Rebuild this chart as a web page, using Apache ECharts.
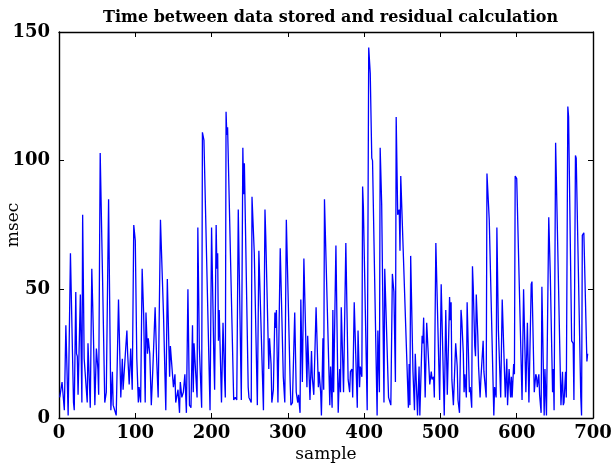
<!DOCTYPE html>
<html><head><meta charset="utf-8">
<script src="https://cdn.jsdelivr.net/npm/echarts@6/dist/echarts.min.js"></script>
<style>html,body{margin:0;padding:0;background:#fff}#c{width:612px;height:463px}</style>
</head><body><div id="c"></div>
<script>
const sampleIdx = [1,4,7,9,12,15,19,20,22,23,24,25,28,30,31,33,37,38,41,43,45,47,49,51,52,54,57,60,62,65,67,68,70,71,75,78,80,81,83,84,
86,87,89,90,92,94,96,98,100,102,104,105,107,109,111,113,114,116,117,119,121,123,125,126,128,130,133,137,140,142,144,145,146,148,150,152,153,156,158,159,161,163,165,
167,169,171,173,175,176,177,179,181,182,184,187,188,190,198,200,203,204,206,207,208,209,210,211,213,215,217,218,219,220,221,229,231,233,235,239,241,242,243,248,249,252,253,
256,260,262,268,270,271,275,276,278,279,281,283,284,285,287,290,294,296,298,303,304,306,307,309,311,313,314,316,317,319,321,325,326,329,331,332,334,337,340,341,
343,344,346,347,348,355,356,358,359,360,363,366,367,368,369,370,373,376,379,381,382,384,385,387,391,392,394,395,397,398,399,404,406,408,410,411,417,418,420,421,423,
426,427,432,434,435,437,439,441,442,444,446,447,448,458,459,460,461,464,466,467,469,470,472,473,476,477,478,480,482,486,488,489,491,492,494,499,501,505,507,509,512,
513,514,515,517,519,520,522,523,525,527,528,530,531,532,534,535,538,539,541,542,543,545,546,547,549,550,552,553,554,556,557,558,560,561,564,570,571,573,574,576,579,581,585,587,588,590,592,593,594,596,597,598,
600,607,609,612,614,616,618,619,620,623,625,626,627,629,630,632,633,636,637,638,639,642,644,647,648,649,651,658,660,661,662,664,665,667,668,672,674,675,677,678,684,685,686,688,692,693];
const msec = [8,14,3,36,1,64,6,3,49,25,24,9,48,6,79,23,6,29,4,58,34,5,27,19,9,103,56,6,10,85,29,3,18,5,1,46,21,8,23,11,
11,25,34,25,13,27,11,75,69,23,6,12,6,58,40,6,41,25,31,25,5,19,19,43,23,8,77,40,3,54,28,16,28,28,12,17,6,11,2,14,8,10,17,
2,50,5,4,36,10,29,29,8,74,27,4,111,108,3,74,23,11,75,58,64,30,42,30,6,37,16,8,119,110,113,7,8,7,81,7,105,87,99,12,8,6,86,
64,5,65,3,81,71,19,31,21,6,11,41,35,42,6,66,16,6,77,14,5,6,6,41,10,6,9,2,46,14,62,12,32,7,26,16,9,43,12,18,
10,1,31,11,85,5,20,4,42,10,67,2,12,19,10,43,10,68,15,10,18,19,8,45,4,34,12,20,16,90,82,3,144,134,101,100,1,34,10,105,83,
6,58,8,8,5,56,49,14,117,79,81,65,94,4,21,5,63,18,3,25,9,1,20,1,32,29,39,8,37,13,18,15,16,8,68,7,52,1,42,9,47,
38,45,15,5,21,29,20,7,2,42,38,25,10,17,8,45,10,12,4,59,51,28,24,48,32,20,8,15,15,30,18,18,8,95,77,1,12,8,74,34,8,46,8,23,5,19,8,16,8,21,17,94,
93,7,50,10,37,6,6,52,53,10,17,16,12,17,9,2,51,1,19,19,1,78,56,10,19,3,107,5,18,5,6,18,8,121,117,30,29,7,102,101,8,1,71,72,22,25];
const xTicks = [0,100,200,300,400,500,600,700];
const yTicks = [0,50,100,150];

const pts = sampleIdx.map((s,i)=>[s, msec[i]]);
const serif = 'DejaVu Serif';
const chart = echarts.init(document.getElementById('c'), null, {renderer:'canvas'});
const lbl = {show:true, fontFamily:serif, fontWeight:'bold', fontSize:18, color:'#000'};
const boxLine = {show:true, onZero:false, lineStyle:{color:'#000', width:1.4}};
const tick = {show:true, inside:true, length:5, lineStyle:{color:'#000'}};
chart.setOption({
  animation:false,
  title:{text:'Time between data stored and residual calculation', left:98, top:5,
    textStyle:{fontFamily:serif, fontWeight:'bold', fontSize:16, color:'#000'}},
  grid:{left:59, right:19, top:32, bottom:45, containLabel:false, outerBoundsMode:'none'},
  xAxis:[{type:'value', min:0, max:700, interval:100, name:'sample', nameLocation:'middle', nameGap:28,
    nameMoveOverlap:false,
    nameTextStyle:{fontFamily:serif, fontSize:17, color:'#000'},
    axisLine:boxLine, axisTick:tick,
    axisLabel:Object.assign({}, lbl, {margin:6, formatter:v=>xTicks.includes(v)?String(v):''}),
    splitLine:{show:false}},
   {type:'value', position:'top', min:0, max:700, interval:100,
    axisLine:boxLine, axisTick:tick, axisLabel:{show:false}, splitLine:{show:false}}],
  yAxis:[{type:'value', min:0, max:150, interval:50, name:'msec', nameLocation:'middle', nameGap:37,
    nameMoveOverlap:false,
    nameTextStyle:{fontFamily:serif, fontSize:17, color:'#000'},
    axisLine:boxLine, axisTick:tick,
    axisLabel:Object.assign({}, lbl, {margin:9, formatter:v=>yTicks.includes(v)?String(v):''}),
    splitLine:{show:false}},
   {type:'value', position:'right', min:0, max:150, interval:50,
    axisLine:boxLine, axisTick:tick, axisLabel:{show:false}, splitLine:{show:false}}],
  series:[{type:'line', data:pts, xAxisIndex:0, yAxisIndex:0, showSymbol:false, symbol:'none',
    lineStyle:{color:'#0000ff', width:1.3}, clip:true}]
});
</script></body></html>
